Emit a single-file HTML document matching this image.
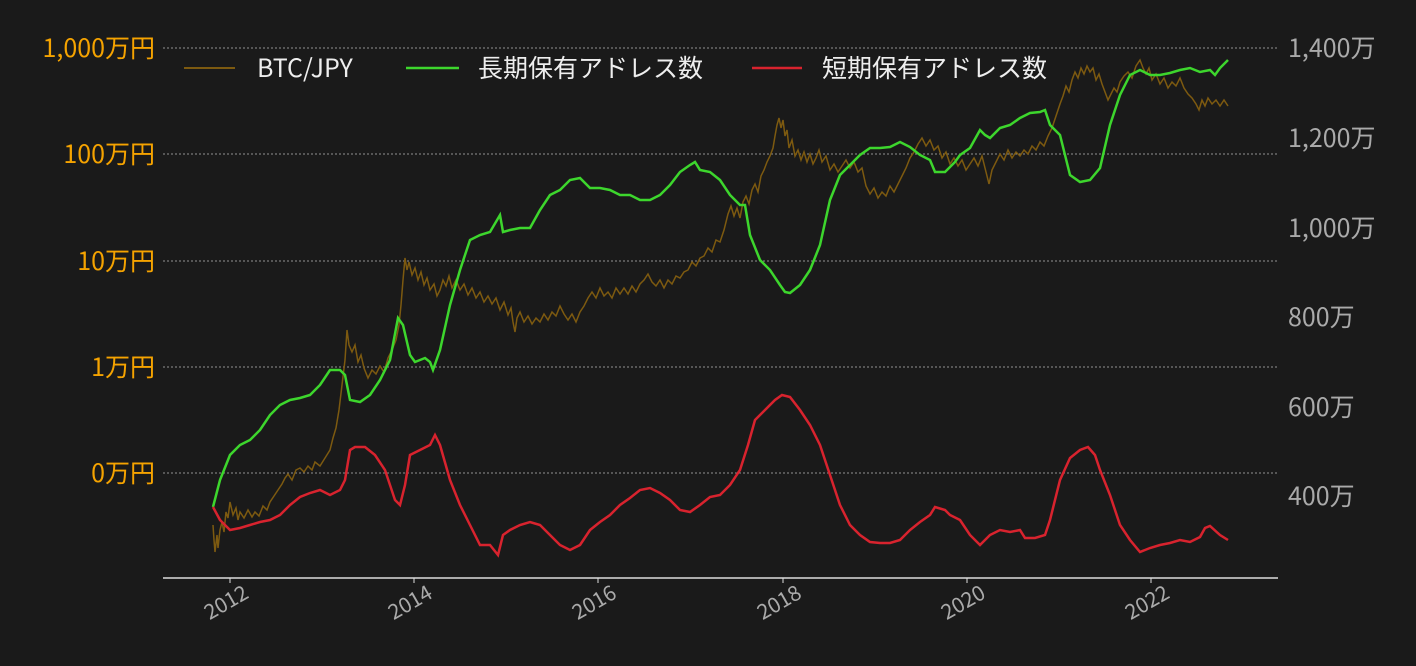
<!DOCTYPE html>
<html><head><meta charset="utf-8"><style>
body{margin:0;background:#1a1a1a;}
svg{display:block;font-family:"Noto Sans CJK JP","Liberation Sans",sans-serif;}
</style></head><body>
<svg width="1416" height="666" viewBox="0 0 1416 666">
<rect width="1416" height="666" fill="#1a1a1a"/>
<g stroke="#bbb" stroke-width="0.7" stroke-dasharray="2,2">
<line x1="163" y1="48" x2="1278" y2="48"/><line x1="163" y1="154" x2="1278" y2="154"/>
<line x1="163" y1="261" x2="1278" y2="261"/><line x1="163" y1="367" x2="1278" y2="367"/>
<line x1="163" y1="473" x2="1278" y2="473"/>
</g>
<line x1="163" y1="578" x2="1278" y2="578" stroke="#ddd" stroke-width="1.5"/>
<g fill="#f5a300" font-size="25" text-anchor="end">
<text x="155" y="57">1,000万円</text><text x="155" y="163">100万円</text>
<text x="155" y="270">10万円</text><text x="155" y="376">1万円</text><text x="155" y="482">0万円</text>
</g>
<g fill="#aaa" font-size="25">
<text x="1288" y="57">1,400万</text><text x="1288" y="147">1,200万</text><text x="1288" y="237">1,000万</text>
<text x="1288" y="326">800万</text><text x="1288" y="416">600万</text><text x="1288" y="505">400万</text>
</g>
<g fill="#aaa" font-size="21" text-anchor="end">
<text transform="translate(250,597) rotate(-30)">2012</text>
<text transform="translate(434,597) rotate(-30)">2014</text>
<text transform="translate(618,597) rotate(-30)">2016</text>
<text transform="translate(803,597) rotate(-30)">2018</text>
<text transform="translate(987,597) rotate(-30)">2020</text>
<text transform="translate(1171,597) rotate(-30)">2022</text>
</g>
<g stroke="#ddd"><line x1="230" y1="578" x2="230" y2="583"/><line x1="414" y1="578" x2="414" y2="583"/><line x1="598" y1="578" x2="598" y2="583"/><line x1="783" y1="578" x2="783" y2="583"/><line x1="967" y1="578" x2="967" y2="583"/><line x1="1151" y1="578" x2="1151" y2="583"/></g>
<polyline fill="none" stroke="#7d5a10" stroke-width="1.5" points="213,525 214,540 215,552 217,535 218,548 220,530 222,522 224,532 226,512 228,518 230,502 233,515 236,508 238,520 240,512 244,518 248,510 252,517 255,512 259,516 263,506 267,510 270,502 274,496 278,490 282,484 285,478 288,474 292,480 296,470 300,468 304,472 308,466 312,470 315,462 320,466 325,458 330,450 333,438 336,428 339,410 342,385 345,360 347,330 349,345 352,352 355,345 358,362 361,355 364,368 368,378 372,370 376,374 380,366 384,372 388,358 392,350 396,340 399,325 401,305 403,280 405,258 407,270 409,262 412,275 415,268 418,280 421,272 424,285 427,278 430,290 434,284 437,296 440,290 443,280 446,286 449,276 452,288 456,280 460,290 464,284 468,295 472,288 476,298 480,292 484,302 488,296 492,304 496,298 500,310 504,302 508,315 511,308 513,322 515,332 517,318 520,312 524,322 528,316 532,324 536,318 540,322 544,314 548,320 552,312 556,316 560,306 564,314 568,320 572,314 576,322 580,312 584,306 588,298 592,292 596,298 600,288 604,296 608,292 612,298 616,288 620,294 624,288 628,294 632,286 636,292 640,284 644,280 648,274 652,282 656,286 660,280 664,288 668,280 672,284 676,276 680,278 684,272 688,270 692,262 696,266 700,258 704,256 708,248 712,252 716,240 720,242 724,230 728,214 731,206 734,216 737,208 740,218 743,202 746,196 749,204 752,190 755,184 758,192 761,176 764,170 767,162 770,156 773,148 775,136 777,125 779,118 781,128 783,120 785,136 787,130 789,148 792,140 795,156 798,150 801,160 804,152 807,162 810,154 813,164 816,158 819,150 822,162 826,156 830,170 834,164 838,172 842,166 846,160 850,168 854,162 858,172 862,168 866,186 870,194 874,188 878,198 882,192 886,196 890,186 894,192 898,184 902,176 906,168 910,158 914,152 918,144 922,138 926,146 930,140 934,150 938,146 942,158 946,152 950,164 954,158 958,166 962,160 966,170 970,164 974,158 978,166 982,156 986,172 989,184 992,170 996,162 1000,154 1004,160 1008,150 1012,158 1016,152 1020,156 1024,150 1028,154 1032,146 1036,150 1040,142 1044,146 1048,136 1052,128 1056,116 1060,104 1063,96 1066,86 1069,92 1072,80 1075,72 1078,78 1081,68 1084,74 1087,66 1090,72 1093,68 1096,80 1099,74 1102,84 1105,92 1108,100 1111,94 1114,88 1117,92 1120,82 1124,76 1128,72 1132,78 1136,66 1140,60 1143,68 1146,74 1149,68 1152,80 1156,74 1160,84 1164,78 1168,88 1172,82 1176,86 1180,78 1184,88 1188,94 1192,98 1196,104 1199,110 1202,100 1205,106 1208,98 1212,104 1216,100 1220,106 1224,100 1228,106"/>
<polyline fill="none" stroke="#3dd62d" stroke-width="2.5" points="213,507 220,480 230,455 240,445 250,440 260,430 270,415 280,405 290,400 300,398 310,395 320,385 330,370 340,370 345,375 350,400 360,402 370,395 380,380 390,360 398,318 403,325 410,355 415,362 425,358 430,362 433,370 440,350 450,305 460,270 470,240 480,235 490,232 500,215 503,232 510,230 520,228 530,228 540,210 550,195 560,190 570,180 580,178 590,188 600,188 610,190 620,195 630,195 640,200 650,200 660,195 670,185 680,172 690,165 695,162 700,170 710,172 720,180 730,195 740,205 745,205 750,235 760,260 770,270 780,285 785,292 790,293 800,285 810,270 820,245 830,200 840,175 850,165 860,155 870,148 880,148 890,147 900,142 910,147 920,155 930,160 935,172 945,172 955,162 960,155 970,148 980,130 985,135 990,138 1000,128 1010,125 1020,118 1030,113 1040,112 1045,110 1050,125 1060,135 1065,155 1070,175 1080,182 1090,180 1100,168 1110,125 1120,95 1130,75 1140,70 1150,75 1160,75 1170,73 1180,70 1190,68 1200,72 1210,70 1215,75 1220,68 1228,60"/>
<polyline fill="none" stroke="#d8232e" stroke-width="2.5" points="213,507 220,520 230,530 240,528 250,525 260,522 270,520 280,515 290,505 300,497 310,493 320,490 330,495 340,490 345,480 350,450 355,447 365,447 375,455 385,470 395,500 400,505 405,485 410,455 420,450 430,445 435,435 440,445 450,480 460,505 470,525 480,545 490,545 498,555 503,535 510,530 520,525 530,522 540,525 550,535 560,545 570,550 580,545 590,530 600,522 610,515 620,505 630,498 640,490 650,488 660,493 670,500 680,510 690,512 700,505 710,497 720,495 730,485 740,470 748,445 755,420 765,410 775,400 782,395 790,397 800,410 810,425 820,445 830,475 840,505 850,525 860,535 870,542 880,543 890,543 900,540 910,530 920,522 930,515 935,507 945,510 950,515 960,520 970,535 980,545 990,535 1000,530 1010,532 1020,530 1025,538 1035,538 1045,535 1050,520 1060,480 1070,458 1080,450 1088,447 1095,455 1100,470 1110,495 1120,525 1130,540 1140,552 1150,548 1160,545 1170,543 1180,540 1190,542 1200,537 1205,528 1210,526 1220,535 1228,540"/>
<g font-size="25" fill="#eee">
<line x1="184" y1="68" x2="235" y2="68" stroke="#7d5a10" stroke-width="2"/>
<text x="257" y="77">BTC/JPY</text>
<line x1="406" y1="68" x2="459" y2="68" stroke="#3dd62d" stroke-width="2.5"/>
<text x="478" y="77">長期保有アドレス数</text>
<line x1="752" y1="68" x2="802" y2="68" stroke="#d8232e" stroke-width="2.5"/>
<text x="822" y="77">短期保有アドレス数</text>
</g>
</svg>
</body></html>
